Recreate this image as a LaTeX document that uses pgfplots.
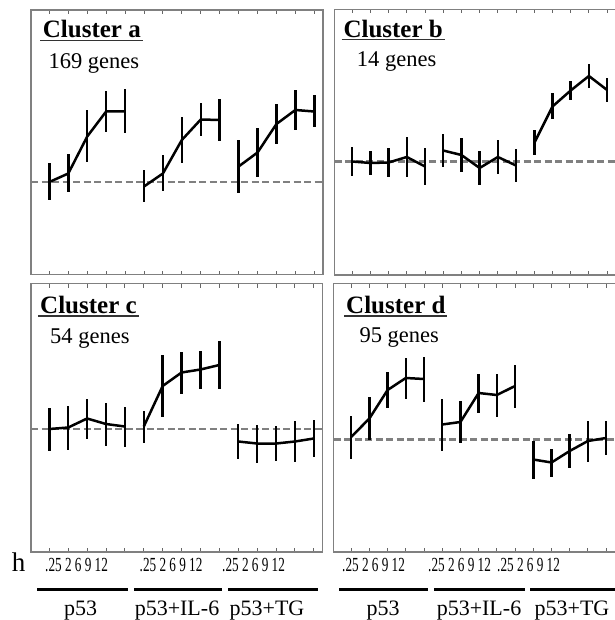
\documentclass[border=0pt]{standalone}
\usepackage{fontspec}
\setmainfont{Liberation Serif}
\usepackage{pgfplots}
\pgfplotsset{compat=1.18}

\pgfplotsset{
  panel/.style={
    scale only axis, anchor=north west,
    xmin=0.03,
    xtick={1,...,15}, xticklabels={}, ytick=\empty,
    tick align=inside, major tick length=4pt,
    axis line style={gray, line width=1.1pt},
    tick style={gray!80!black, line width=0.9pt},
    clip=false,
  },
  prof/.style={
    black, line width=2.5pt, mark=none, line join=round,
    error bars/.cd, y dir=both, y explicit, error mark=none,
    error bar style={line width=2.5pt, black},
  },
  base/.style={gray, line width=2.8pt, dash pattern=on 7pt off 3.5pt},
}

\newcommand{\ttl}[1]{\fontsize{25}{28}\selectfont\bfseries #1}
\newcommand{\gn}[1]{\fontsize{22.5}{26}\selectfont #1}
\newcommand{\gap}{\hspace{5pt}}
\newcommand{\hr}{\scalebox{0.66}[1]{\fontsize{20}{22}\selectfont .25\gap2\gap6\gap9\gap12}}
\newcommand{\grp}[1]{\fontsize{22}{26}\selectfont #1}

\begin{document}
\begin{tikzpicture}

% Cluster a
\begin{axis}[panel, at={(31pt,-10pt)}, width=292pt, height=264.5pt,
  xmax=15.46, ymin=-1.85, ymax=3.44]
\addplot[base] coordinates {(0.03,0) (15.46,0)};
\addplot[prof] coordinates {(1,0) +- (0,0.37) (2,0.17) +- (0,0.38) (3,0.91) +- (0,0.52) (4,1.41) +- (0,0.41) (5,1.41) +- (0,0.44)};
\addplot[prof] coordinates {(6,-0.09) +- (0,0.32) (7,0.17) +- (0,0.36) (8,0.84) +- (0,0.46) (9,1.25) +- (0,0.33) (10,1.24) +- (0,0.42)};
\addplot[prof] coordinates {(11,0.31) +- (0,0.53) (12,0.59) +- (0,0.49) (13,1.16) +- (0,0.40) (14,1.44) +- (0,0.40) (15,1.41) +- (0,0.32)};
\end{axis}

% Cluster b
\begin{axis}[panel, at={(334.5pt,-9.5pt)}, width=281.7pt, height=265.5pt,
  xmax=15.5, ymin=-2.27, ymax=3.04]
\addplot[base] coordinates {(0.03,0) (15.5,0)};
\addplot[prof] coordinates {(1,0) +- (0,0.28) (2,-0.03) +- (0,0.23) (3,-0.02) +- (0,0.28) (4,0.09) +- (0,0.39) (5,-0.10) +- (0,0.37)};
\addplot[prof] coordinates {(6,0.22) +- (0,0.33) (7,0.13) +- (0,0.34) (8,-0.13) +- (0,0.33) (9,0.09) +- (0,0.34) (10,-0.08) +- (0,0.33)};
\addplot[prof] coordinates {(11,0.37) +- (0,0.25) (12,1.10) +- (0,0.26) (13,1.42) +- (0,0.19) (14,1.71) +- (0,0.24) (15,1.43) +- (0,0.24)};
\end{axis}

% Cluster c
\begin{axis}[panel, at={(31pt,-283.5pt)}, width=291.5pt, height=268.5pt,
  xmax=15.46, ymin=-2.46, ymax=2.91]
\addplot[base] coordinates {(0.03,0) (15.46,0)};
\addplot[prof] coordinates {(1,0) +- (0,0.43) (2,0.03) +- (0,0.44) (3,0.21) +- (0,0.40) (4,0.10) +- (0,0.43) (5,0.05) +- (0,0.40)};
\addplot[prof] coordinates {(6,0.05) +- (0,0.32) (7,0.86) +- (0,0.62) (8,1.13) +- (0,0.42) (9,1.19) +- (0,0.38) (10,1.28) +- (0,0.48)};
\addplot[prof] coordinates {(11,-0.25) +- (0,0.35) (12,-0.29) +- (0,0.38) (13,-0.29) +- (0,0.35) (14,-0.25) +- (0,0.41) (15,-0.19) +- (0,0.37)};
\end{axis}

% Cluster d
\begin{axis}[panel, at={(333.5pt,-283.5pt)}, width=281.7pt, height=268.5pt,
  xmax=15.5, ymin=-2.25, ymax=3.12]
\addplot[base] coordinates {(0.03,0) (15.5,0)};
\addplot[prof] coordinates {(1,0.05) +- (0,0.43) (2,0.42) +- (0,0.43) (3,0.99) +- (0,0.36) (4,1.23) +- (0,0.41) (5,1.21) +- (0,0.45)};
\addplot[prof] coordinates {(6,0.30) +- (0,0.52) (7,0.35) +- (0,0.42) (8,0.93) +- (0,0.39) (9,0.89) +- (0,0.43) (10,1.07) +- (0,0.43)};
\addplot[prof] coordinates {(11,-0.40) +- (0,0.38) (12,-0.46) +- (0,0.28) (13,-0.23) +- (0,0.34) (14,-0.03) +- (0,0.41) (15,0.03) +- (0,0.34)};
\end{axis}

% panel titles
\node[anchor=base west, inner sep=0] at (42.7pt,-38pt) {\ttl{Cluster a}};
\draw[black!80, line width=1.3pt] (40pt,-40.7pt) -- (143pt,-40.7pt);
\node[anchor=base west, inner sep=0] at (48.3pt,-68.3pt) {\gn{169 genes}};
\node[anchor=base west, inner sep=0] at (343.3pt,-37.3pt) {\ttl{Cluster b}};
\draw[black!80, line width=1.3pt] (341.7pt,-39.7pt) -- (445pt,-39.7pt);
\node[anchor=base west, inner sep=0] at (356.7pt,-66.7pt) {\gn{14 genes}};
\node[anchor=base west, inner sep=0] at (40pt,-313.3pt) {\ttl{Cluster c}};
\draw[black!80, line width=1.3pt] (38pt,-316pt) -- (139pt,-316pt);
\node[anchor=base west, inner sep=0] at (50pt,-343.3pt) {\gn{54 genes}};
\node[anchor=base west, inner sep=0] at (346pt,-313.3pt) {\ttl{Cluster d}};
\draw[black!80, line width=1.3pt] (344pt,-316pt) -- (447pt,-316pt);
\node[anchor=base west, inner sep=0] at (359.3pt,-342.7pt) {\gn{95 genes}};

% time labels
\node[anchor=base west, inner sep=0] at (11.7pt,-571.7pt) {\fontsize{27}{30}\selectfont h};
\foreach \x in {45,139.5,222,342,428,497}
  \node[anchor=base west, inner sep=0] at (\x pt,-571.7pt) {\hr};

% treatment bars and names
\foreach \a/\b in {37/128,134/222,228/318,339/428,434/525,530/616}
  \draw[black, line width=2.6pt] (\a pt,-589.3pt) -- (\b pt,-589.3pt);
\foreach \x/\t in {80.5/p53,177/p53+IL-6,267/p53+TG,383/p53,479/p53+IL-6,572/p53+TG}
  \node[anchor=base, inner sep=0] at (\x pt,-615pt) {\grp{\t}};

\pgfresetboundingbox
\path (0pt,0pt) rectangle (614pt,-620pt);
\end{tikzpicture}
\end{document}
